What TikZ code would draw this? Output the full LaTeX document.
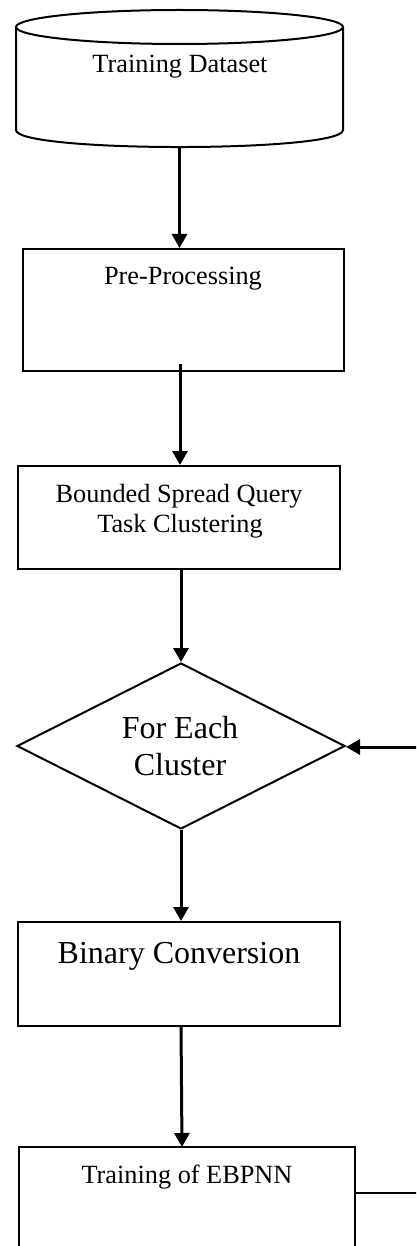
\documentclass[tikz,border=0pt]{standalone}
\usepackage{fontspec}
\setmainfont{Liberation Serif}
\usetikzlibrary{shapes.geometric,arrows.meta}
\begin{document}
\begin{tikzpicture}[x=1pt,y=-1pt,
  box/.style={draw,line width=2pt,inner sep=0pt,minimum width=#1},
  txt/.style={anchor=base,inner sep=0pt,font=\fontsize{26.3}{30}\selectfont},
  bigtxt/.style={anchor=base,inner sep=0pt,font=\fontsize{32}{37}\selectfont},
  arr/.style={line width=3pt,-{Triangle[width=15pt,length=14pt]}},
  ln/.style={line width=2.6pt}]
\useasboundingbox (0,0) rectangle (416,1246);
\clip (0,0) rectangle (416,1246);
\fill[white] (0,0) rectangle (416,1246);
% cylinder
\draw[line width=2pt] (179.5,27) ellipse [x radius=163.5, y radius=17];
\draw[line width=2pt] (16,27) -- (16,130) .. controls (16,152.7) and (343,152.7) .. (343,130) -- (343,27);
\coordinate (cylbot) at (179.5,147);
\node[txt] (t1) at (180,73) {Training Dataset};
% boxes
\node[box=321, minimum height=122] (pre) at (183.5,310) {};
\node[txt] (t2) at (183,285) {Pre-Processing};
\coordinate (prestart) at (180,364);
\node[box=322, minimum height=103] (bound) at (179,517.5) {};
\node[txt] (t3) at (179,502) {Bounded Spread Query};
\node[txt] (t4) at (180,532) {Task Clustering};
\node[draw,diamond,line width=2pt,inner sep=0pt,minimum width=328,minimum height=166] (dia) at (181,746) {};
\node[bigtxt] (t5) at (180,738) {For Each};
\node[bigtxt] (t6) at (180,775) {Cluster};
\node[box=322, minimum height=104] (bin) at (179,974) {};
\node[bigtxt] (t7) at (179,963) {Binary Conversion};
\node[box=336, minimum height=160] (train) at (187,1227) {};
\node[txt] (t8) at (187,1183) {Training of EBPNN};
% connectors
\draw[arr] (cylbot) -- (pre.north -| cylbot);
\draw[arr] (prestart) -- (prestart |- bound.north);
\draw[arr] (bound.south -| dia.north) -- (dia.north);
\draw[arr] (dia.south) -- (dia.south |- bin.north);
\coordinate (binout) at (181,1026);
\coordinate (trainin) at (182,1147);
\draw[arr] (binout) -- (trainin);
\coordinate (c1) at (440,1193);
\coordinate (c2) at (440,747);
\draw[ln] (train.east |- c1) -- (c1) -- (c2);
\draw[arr] (c2) -- (dia.east |- c2);
\end{tikzpicture}
\end{document}
